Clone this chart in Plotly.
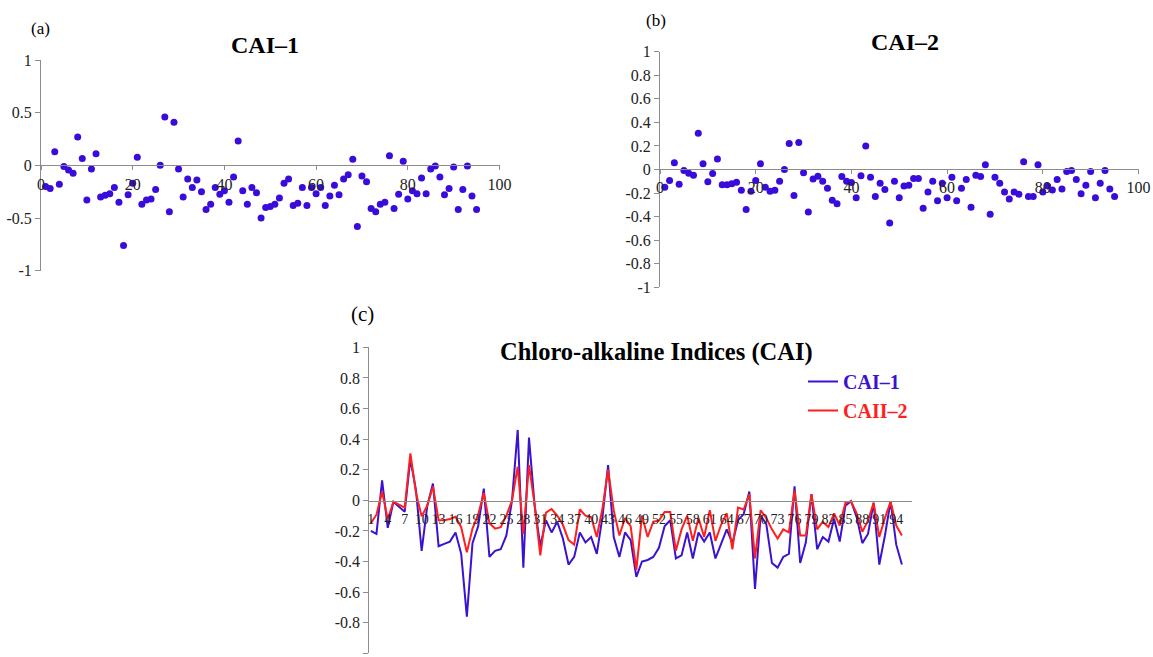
import plotly.graph_objects as go

# ---------------- data ----------------
sample_no = list(range(1, 96))

cai_1 = [-0.20, -0.22, 0.13, -0.18, -0.01, -0.045, -0.075, 0.27, 0.065, -0.33,
         -0.035, 0.11, -0.30, -0.285, -0.27, -0.21, -0.35, -0.76, -0.28, -0.17,
         0.076, -0.37, -0.33, -0.32, -0.23, 0.0, 0.46, -0.44, 0.41, -0.035,
         -0.30, -0.13, -0.21, -0.14, -0.25, -0.42, -0.37, -0.21, -0.275, -0.24,
         -0.35, -0.11, 0.23, -0.24, -0.37, -0.21, -0.26, -0.50, -0.40, -0.39,
         -0.37, -0.31, -0.17, -0.13, -0.38, -0.36, -0.21, -0.38, -0.21, -0.27,
         -0.21, -0.38, -0.29, -0.19, -0.28, -0.13, -0.09, 0.057, -0.58, -0.10,
         -0.155, -0.41, -0.44, -0.37, -0.35, 0.092, -0.41, -0.275, 0.04, -0.32,
         -0.24, -0.27, -0.12, -0.27, -0.035, -0.006, -0.11, -0.28, -0.22, -0.016,
         -0.42, -0.23, -0.006, -0.29, -0.42]

cai_2 = [-0.15, -0.094, 0.057, -0.125, -0.009, -0.031, -0.048, 0.307, 0.048, -0.105,
         -0.034, 0.09, -0.13, -0.13, -0.122, -0.108, -0.176, -0.34, -0.185, -0.094,
         0.048, -0.15, -0.185, -0.176, -0.10, 0.0, 0.22, -0.22, 0.23, -0.028,
         -0.36, -0.08, -0.057, -0.10, -0.16, -0.26, -0.29, -0.06, -0.10, -0.11,
         -0.24, -0.054, 0.20, -0.066, -0.23, -0.116, -0.17, -0.455, -0.10, -0.24,
         -0.14, -0.133, -0.076, -0.076, -0.33, -0.19, -0.10, -0.265, -0.116, -0.24,
         -0.065, -0.265, -0.16, -0.085, -0.32, -0.048, -0.06, 0.04, -0.38, -0.065,
         -0.116, -0.19, -0.25, -0.19, -0.21, 0.065, -0.23, -0.23, 0.04, -0.19,
         -0.14, -0.175, -0.085, -0.165, -0.017, -0.008, -0.085, -0.206, -0.133, -0.017,
         -0.24, -0.116, -0.008, -0.165, -0.23]

scatter_xticks = [0, 20, 40, 60, 80, 100]
a_yticks = [-1, -0.5, 0, 0.5, 1]
a_yticktext = ["-1", "-0.5", "0", "0.5", "1"]
b_yticks = [-1, -0.8, -0.6, -0.4, -0.2, 0, 0.2, 0.4, 0.6, 0.8, 1]
b_yticktext = ["-1", "-0.8", "-0.6", "-0.4", "-0.2", "0", "0.2", "0.4", "0.6", "0.8", "1"]
c_xticks = list(range(1, 96, 3))
c_xticktext = [str(v) for v in c_xticks]

# ---------------- style ----------------
W, H = 1153, 657
SERIF = "Liberation Serif, Times New Roman, serif"
DOT = "#3A0CDB"
BLUE = "#3A12D0"
RED = "#FF1F1F"
AX = "#8C8C8C"
TXT = "#222222"


def px(x):
    return x / W


def py(y):
    return 1 - y / H


fig = go.Figure()
fig.add_trace(go.Scatter(x=sample_no, y=cai_1, mode="markers",
                         marker=dict(color=DOT, size=7),
                         xaxis="x", yaxis="y", showlegend=False))
fig.add_trace(go.Scatter(x=sample_no, y=cai_2, mode="markers",
                         marker=dict(color=DOT, size=7),
                         xaxis="x2", yaxis="y2", showlegend=False))
fig.add_trace(go.Scatter(x=sample_no, y=cai_1, mode="lines",
                         line=dict(color=BLUE, width=2),
                         name="<b><span style='color:%s'>CAI\u20131</span></b>" % BLUE,
                         xaxis="x3", yaxis="y3"))
fig.add_trace(go.Scatter(x=sample_no, y=cai_2, mode="lines",
                         line=dict(color=RED, width=2),
                         name="<b><span style='color:%s'>CAII\u20132</span></b>" % RED,
                         xaxis="x3", yaxis="y3"))

tickfont = dict(family=SERIF, size=16, color=TXT)
common = dict(showgrid=False, zeroline=False, showline=True, linecolor=AX,
              linewidth=1, tickcolor=AX, tickfont=tickfont, automargin=False)

fig.update_layout(
    width=W, height=H, autosize=False,
    margin=dict(l=0, r=0, t=0, b=0, autoexpand=False),
    paper_bgcolor="white", plot_bgcolor="white",
    # panel (a)
    xaxis=dict(domain=[px(41), px(499.5)], range=[0, 100], anchor="free",
               position=py(165.3), ticks="outside", ticklen=4,
               tickvals=scatter_xticks, tickangle=0, **common),
    yaxis=dict(domain=[py(270.7), py(60)], range=[-1, 1], anchor="x",
               ticks="outside", ticklen=5, tickvals=a_yticks,
               ticktext=a_yticktext, **common),
    # panel (b)
    xaxis2=dict(domain=[px(660), px(1138.5)], range=[0, 100], anchor="free",
                position=py(169), ticks="outside", ticklen=4,
                tickvals=scatter_xticks, tickangle=0, **common),
    yaxis2=dict(domain=[py(287.3), py(51.7)], range=[-1, 1], anchor="x2",
                ticks="outside", ticklen=5, tickvals=b_yticks,
                ticktext=b_yticktext, **common),
    # panel (c)
    xaxis3=dict(domain=[px(369.3), px(912)], range=[0.735, 96.79], anchor="free",
                position=py(501), ticks="outside", ticklen=5,
                tickvals=c_xticks, ticktext=c_xticktext, tickangle=0,
                **{**common, "tickcolor": "rgba(0,0,0,0)",
                   "tickfont": dict(family=SERIF, size=14, color=TXT)}),
    yaxis3=dict(domain=[py(653.3), py(347.3)], range=[-1, 1], anchor="x3",
                ticks="outside", ticklen=5, tickvals=b_yticks,
                ticktext=b_yticktext, **common),
    legend=dict(x=px(803), y=py(362), xanchor="left", yanchor="top",
                bgcolor="rgba(0,0,0,0)",
                font=dict(family=SERIF, size=20), tracegroupgap=0,
                itemwidth=30),
    showlegend=True,
)

annos = [
    ("(a)", 40, 28, 17, False),
    ("CAI\u20131", 265, 45, 24, True),
    ("(b)", 656, 20, 17, False),
    ("CAI\u20132", 905, 42, 24, True),
    ("(c)", 362, 314, 21, False),
    ("Chloro-alkaline Indices (CAI)", 657, 352, 24.5, True),
]
for text, x, y, size, bold in annos:
    fig.add_annotation(text=("<b>%s</b>" % text) if bold else text,
                       x=px(x), y=py(y), xref="paper", yref="paper",
                       xanchor="center", yanchor="middle", showarrow=False,
                       font=dict(family=SERIF, size=size, color="black"))

fig.write_html("out.html")
